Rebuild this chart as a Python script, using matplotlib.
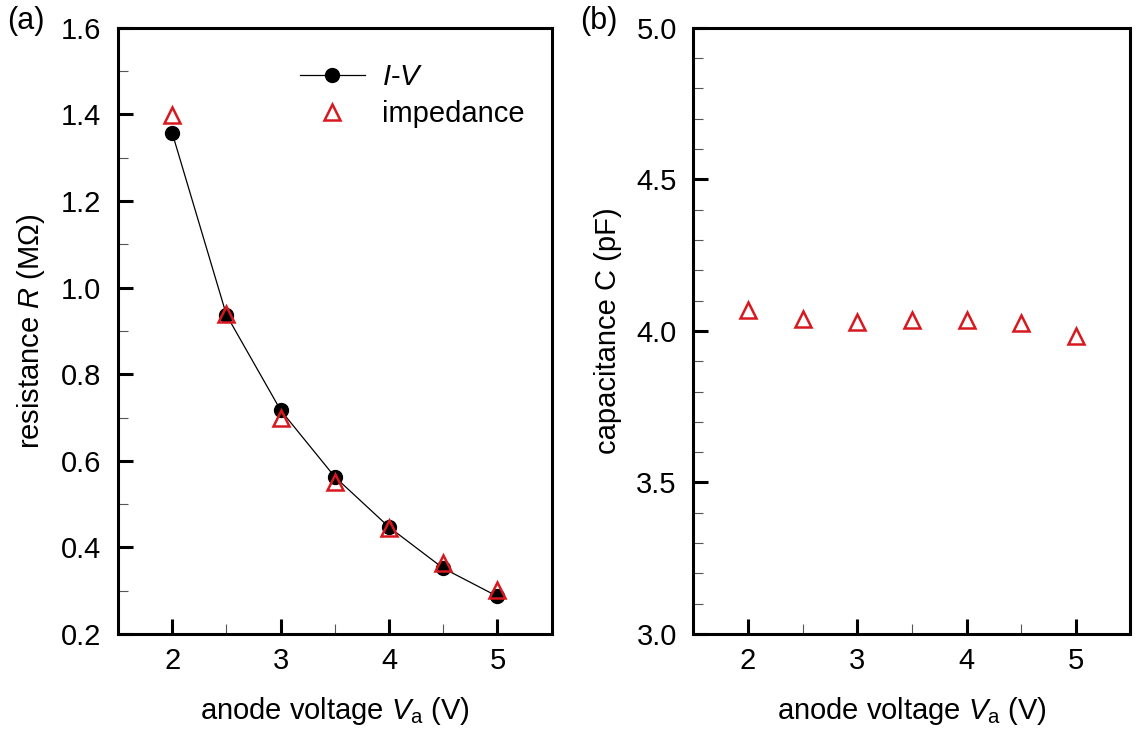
import matplotlib
matplotlib.use("Agg")
import matplotlib.pyplot as plt
from matplotlib.ticker import MultipleLocator, FormatStrFormatter

plt.rcParams['font.family'] = ['Liberation Sans', 'DejaVu Sans']
plt.rcParams['mathtext.fontset'] = 'custom'
plt.rcParams['mathtext.rm'] = 'Liberation Sans'
plt.rcParams['mathtext.it'] = 'Liberation Sans:italic'

# data
va = [2.0, 2.5, 3.0, 3.5, 4.0, 4.5, 5.0]
r_iv = [1.357, 0.937, 0.717, 0.563, 0.447, 0.352, 0.287]
r_imp = [1.399, 0.940, 0.698, 0.551, 0.444, 0.364, 0.302]
c_imp = [4.068, 4.038, 4.031, 4.035, 4.037, 4.027, 3.982]

red = '#d7191f'
fs = 21

fig = plt.figure(figsize=(11.35, 7.33), dpi=100)
ax1 = fig.add_axes([0.104, 0.135, 0.382, 0.827])
ax2 = fig.add_axes([0.611, 0.135, 0.385, 0.827])


def style(ax):
    for s in ax.spines.values():
        s.set_linewidth(2.2)
    ax.tick_params(which='major', direction='in', length=11, width=2.2,
                   labelsize=fs)
    ax.tick_params(axis='y', which='major', pad=12)
    ax.tick_params(axis='x', which='major', pad=9)
    ax.tick_params(which='minor', direction='in', length=7, width=0.8,
                   color='#555555')
    ax.tick_params(axis='y', which='both', left=True, right=False)
    ax.tick_params(axis='x', which='both', bottom=True, top=False)
    ax.set_xlim(1.5, 5.5)
    ax.xaxis.set_major_locator(MultipleLocator(1))
    ax.xaxis.set_minor_locator(MultipleLocator(0.5))
    ax.set_xlabel(r'anode voltage $V_\mathrm{a}$ (V)', fontsize=fs, labelpad=15)


# (a)
ax1.plot(va, r_iv, '-o', color='black', lw=0.9, ms=10, label=r'$I$-$V$', zorder=3)
ax1.plot(va, r_imp, '^', ms=11, mfc='none', mec=red, mew=1.8,
         label='impedance', zorder=4)
style(ax1)
ax1.set_ylim(0.2, 1.6)
ax1.yaxis.set_major_locator(MultipleLocator(0.2))
ax1.yaxis.set_minor_locator(MultipleLocator(0.1))
ax1.yaxis.set_major_formatter(FormatStrFormatter('%.1f'))
ax1.set_ylabel(r'resistance $R$ (M$\Omega$)', fontsize=fs, labelpad=10)
ax1.legend(loc='upper left', bbox_to_anchor=(0.36, 0.985), frameon=False,
           fontsize=fs, handlelength=2.2, handletextpad=0.6, labelspacing=0.3)

# (b)
ax2.plot(va, c_imp, '^', ms=11, mfc='none', mec=red, mew=1.8)
style(ax2)
ax2.set_ylim(3.0, 5.0)
ax2.yaxis.set_major_locator(MultipleLocator(0.5))
ax2.yaxis.set_minor_locator(MultipleLocator(0.1))
ax2.yaxis.set_major_formatter(FormatStrFormatter('%.1f'))
ax2.set_ylabel('capacitance C (pF)', fontsize=fs, labelpad=10)

fig.text(0.006, 0.972, '(a)', fontsize=22, va='center', ha='left')
fig.text(0.511, 0.972, '(b)', fontsize=22, va='center', ha='left')

fig.savefig('out.png', dpi=100)
